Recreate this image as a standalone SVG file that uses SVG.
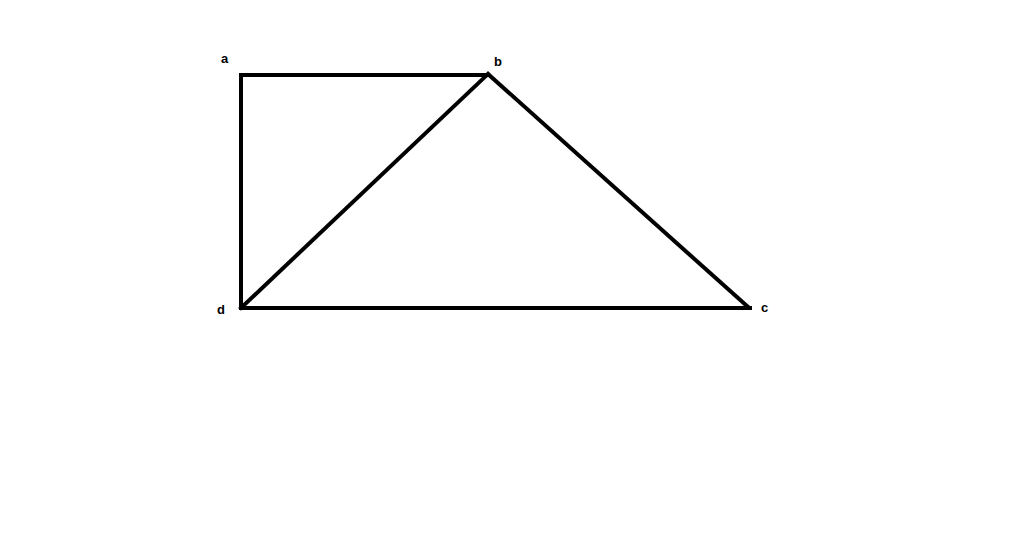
<svg xmlns="http://www.w3.org/2000/svg" width="1024" height="539" viewBox="0 0 1024 539">
<style>
.e{stroke:#000;stroke-width:4;fill:none;stroke-linecap:square;stroke-linejoin:miter}
.l{font-family:"Liberation Sans",Arial,sans-serif;font-weight:bold;font-size:13px;fill:#000}
</style>
<rect width="1024" height="539" fill="#fff"/>
<g id="connectors">
<line class="e" x1="241" y1="75" x2="488" y2="75"/>
<line class="e" x1="241" y1="75" x2="241" y2="308"/>
<line class="e" x1="241" y1="308" x2="750" y2="308"/>
<line class="e" x1="241" y1="308" x2="488" y2="74"/>
<line class="e" x1="488" y1="74" x2="748" y2="307"/>
</g>
<g id="a"><text class="l" x="221" y="63">a</text></g>
<g id="b"><text class="l" x="494" y="66">b</text></g>
<g id="c"><text class="l" x="761" y="312">c</text></g>
<g id="d"><text class="l" x="217" y="314">d</text></g>
</svg>
